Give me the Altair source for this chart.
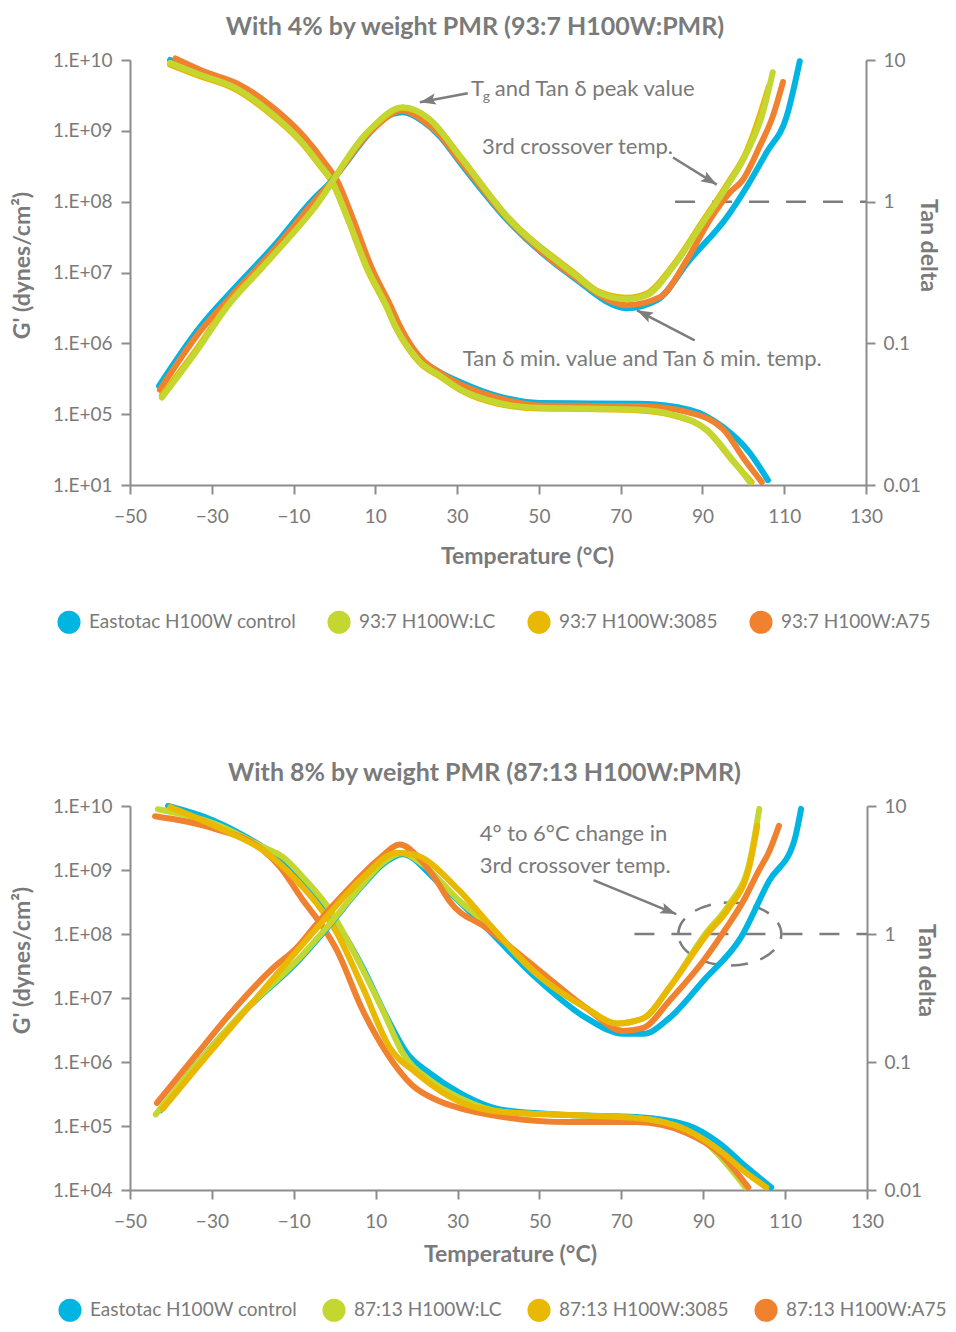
import altair as alt
import pandas as pd

FONT = "Lato"
TEXT_GRAY = "#7a7a7a"
AXIS_GRAY = "#8c8c8c"

SERIES_COLORS = ["#00b5e2", "#c4d630", "#e8b900", "#f0822f"]
TOP_SERIES = ["Eastotac H100W control", "93:7 H100W:LC", "93:7 H100W:3085", "93:7 H100W:A75"]
BOT_SERIES = ["Eastotac H100W control", "87:13 H100W:LC", "87:13 H100W:3085", "87:13 H100W:A75"]

X_TICKS = [-50, -30, -10, 10, 30, 50, 70, 90, 110, 130]
G_TICKS = [1e4, 1e5, 1e6, 1e7, 1e8, 1e9, 1e10]
TOP_G_LABELS = ["1.E+01", "1.E+05", "1.E+06", "1.E+07", "1.E+08", "1.E+09", "1.E+10"]
BOT_G_LABELS = ["1.E+04", "1.E+05", "1.E+06", "1.E+07", "1.E+08", "1.E+09", "1.E+10"]
TAN_TICKS = [0.01, 0.1, 1, 10]

# ---------------- top panel (4% PMR): G' (left axis) ----------------
TOP_G_CTRL_T = [-40.2, -32.9, -24.8, -16.5, -8.4, -3.5, -0.4, 3.1, 7.9, 12.8, 14.8, 18.5, 20.9, 25.8, 30.7, 40.0, 50.2, 62.0, 74.7, 86.9, 95.0, 101.6, 106.0]
TOP_G_CTRL_V = [1.0e10, 6.4e9, 4.3e9, 2.05e9, 7.6e8, 3.4e8, 1.9e8, 6.3e7, 1.25e7, 3.5e6, 1.95e6, 8.8e5, 6.1e5, 3.9e5, 2.85e5, 1.8e5, 1.44e5, 1.42e5, 1.4e5, 1.15e5, 6.6e4, 2.83e4, 1.17e4]
TOP_G_LC_T = [-40.2, -32.9, -24.8, -16.5, -8.4, -3.5, -0.4, 3.1, 7.9, 12.8, 14.8, 18.5, 20.9, 25.8, 30.7, 40.0, 50.2, 62.0, 74.7, 82.8, 91.1, 97.4, 101.6]
TOP_G_LC_V = [9.1e9, 6.2e9, 4.2e9, 2.0e9, 7.4e8, 3.3e8, 1.85e8, 6.1e7, 1.2e7, 3.3e6, 1.8e6, 8.1e5, 5.5e5, 3.5e5, 2.25e5, 1.45e5, 1.23e5, 1.2e5, 1.15e5, 9.8e4, 6.0e4, 2.25e4, 1.1e4]
TOP_G_3085_T = [-40.2, -32.9, -24.8, -16.5, -8.4, -3.5, -0.4, 3.1, 7.9, 12.8, 14.8, 18.5, 20.9, 25.8, 30.7, 40.0, 50.2, 62.0, 74.7, 82.8, 91.1, 97.4, 102.0]
TOP_G_3085_V = [8.6e9, 5.9e9, 4.0e9, 1.9e9, 7.2e8, 3.2e8, 1.8e8, 6.0e7, 1.15e7, 3.2e6, 1.75e6, 7.8e5, 5.3e5, 3.4e5, 2.2e5, 1.4e5, 1.2e5, 1.18e5, 1.13e5, 9.6e4, 5.9e4, 2.2e4, 1.1e4]
TOP_G_A75_T = [-38.9, -31.7, -23.6, -15.3, -7.2, -2.3, 0.8, 4.3, 9.0, 13.8, 15.8, 19.3, 21.6, 26.3, 31.0, 40.0, 50.2, 62.0, 74.7, 86.9, 95.0, 100.5, 104.5]
TOP_G_A75_V = [1.05e10, 6.8e9, 4.6e9, 2.2e9, 8.0e8, 3.5e8, 1.9e8, 6.2e7, 1.2e7, 3.3e6, 1.85e6, 8.4e5, 5.8e5, 3.7e5, 2.6e5, 1.7e5, 1.33e5, 1.31e5, 1.3e5, 1.05e5, 6.2e4, 2.2e4, 1.1e4]

# ---------------- top panel: tan delta (right axis) ----------------
TOP_TAN_CTRL_T = [-42.9, -32.9, -25.6, -15.0, -5.3, -1.1, 8.7, 11.9, 16.7, 21.6, 25.8, 30.7, 42.2, 58.3, 71.5, 78.9, 86.9, 96.0, 100.9, 105.7, 110.6, 113.8]
TOP_TAN_CTRL_V = [0.050, 0.13, 0.226, 0.48, 1.03, 1.36, 3.08, 3.82, 4.27, 3.69, 2.89, 1.89, 0.745, 0.294, 0.177, 0.202, 0.388, 0.78, 1.28, 2.23, 4.0, 9.8]
TOP_TAN_LC_T = [-42.2, -33.6, -26.3, -17.5, -5.3, 8.7, 16.7, 23.3, 30.7, 42.2, 58.3, 64.9, 71.5, 76.4, 82.8, 90.1, 96.0, 100.9, 104.8, 107.2]
TOP_TAN_LC_V = [0.0414, 0.089, 0.18, 0.346, 0.877, 3.24, 4.64, 3.82, 2.08, 0.78, 0.313, 0.226, 0.205, 0.219, 0.346, 0.71, 1.28, 2.23, 4.27, 8.2]
TOP_TAN_3085_T = [-42.2, -33.6, -26.3, -17.5, -5.3, 8.7, 16.7, 23.3, 30.7, 42.2, 58.3, 64.9, 71.5, 76.4, 82.8, 90.1, 96.0, 100.9, 104.3, 106.2]
TOP_TAN_3085_V = [0.043, 0.092, 0.185, 0.35, 0.88, 3.2, 4.6, 3.8, 2.1, 0.79, 0.32, 0.23, 0.21, 0.225, 0.355, 0.73, 1.32, 2.3, 4.3, 6.5]
TOP_TAN_A75_T = [-42.7, -33.0, -25.6, -15.0, -5.3, -1.1, 8.7, 16.7, 21.6, 25.8, 30.7, 42.2, 58.3, 71.5, 79.6, 86.2, 91.8, 96.7, 99.9, 104.0, 107.2, 109.7]
TOP_TAN_A75_V = [0.047, 0.12, 0.21, 0.45, 0.98, 1.34, 3.1, 4.4, 3.75, 2.95, 1.95, 0.76, 0.30, 0.186, 0.212, 0.388, 0.745, 1.16, 1.43, 2.46, 4.0, 7.0]

# ---------------- bottom panel (8% PMR): G' ----------------
BOT_G_CTRL_T = [-40.7, -29.8, -17.6, -11.7, -6.1, -1.2, 2.0, 6.8, 12.7, 17.6, 23.2, 30.5, 41.2, 57.3, 73.7, 85.9, 93.9, 100.5, 106.6]
BOT_G_CTRL_V = [1.0e10, 6.0e9, 2.3e9, 1.29e9, 5.4e8, 2.1e8, 1.05e8, 3.0e7, 5.0e6, 1.38e6, 6.7e5, 3.3e5, 1.78e5, 1.48e5, 1.38e5, 1.04e5, 5.4e4, 2.3e4, 1.1e4]
BOT_G_LC_T = [-43.2, -29.8, -17.6, -12.7, -7.8, -1.2, 4.4, 11.7, 16.6, 23.2, 30.5, 41.2, 57.3, 73.7, 85.9, 90.0, 96.3, 100.3]
BOT_G_LC_V = [8.9e9, 5.4e9, 2.3e9, 1.6e9, 7.8e8, 2.4e8, 5.6e7, 6.5e6, 1.38e6, 5.2e5, 2.75e5, 1.65e5, 1.48e5, 1.33e5, 8.7e4, 6.0e4, 2.3e4, 1.1e4]
BOT_G_3085_T = [-40.2, -25.6, -17.6, -9.3, -4.4, 0.5, 6.8, 13.4, 20.0, 30.5, 41.2, 57.3, 73.7, 85.9, 93.9, 100.5, 105.4]
BOT_G_3085_V = [9.6e9, 3.8e9, 2.05e9, 6.9e8, 3.0e8, 1.05e8, 1.48e7, 1.7e6, 6.7e5, 2.4e5, 1.65e5, 1.48e5, 1.33e5, 8.7e4, 4.2e4, 1.85e4, 1.1e4]
BOT_G_A75_T = [-43.9, -29.8, -17.6, -13.4, -7.8, -2.9, 0.5, 6.8, 12.7, 19.0, 24.9, 30.5, 41.2, 57.3, 73.7, 85.9, 93.9, 101.0]
BOT_G_A75_V = [6.9e9, 4.5e9, 2.05e9, 1.12e9, 3.4e8, 1.29e8, 5.6e7, 6.5e6, 1.38e6, 4.3e5, 2.55e5, 1.9e5, 1.38e5, 1.15e5, 1.15e5, 7.8e4, 3.8e4, 1.1e4]

# ---------------- bottom panel: tan delta ----------------
BOT_TAN_CTRL_T = [-42.5, -33.7, -21.5, -9.3, -1.2, 6.8, 11.7, 16.6, 24.9, 37.1, 49.3, 61.5, 70.5, 75.4, 81.7, 90.0, 99.3, 106.1, 112.2, 113.9]
BOT_TAN_CTRL_V = [0.042, 0.096, 0.26, 0.6, 1.18, 2.4, 3.5, 4.2, 2.6, 1.11, 0.45, 0.22, 0.166, 0.166, 0.22, 0.43, 0.95, 2.6, 5.3, 9.5]
BOT_TAN_LC_T = [-43.7, -33.7, -21.5, -9.3, -1.2, 6.8, 11.7, 16.6, 21.5, 30.5, 37.1, 49.3, 61.5, 68.8, 75.4, 81.7, 90.5, 96.3, 101.2, 103.7]
BOT_TAN_LC_V = [0.039, 0.096, 0.263, 0.615, 1.2, 2.45, 3.6, 4.3, 3.5, 1.81, 1.2, 0.49, 0.263, 0.20, 0.22, 0.38, 1.0, 1.7, 3.5, 9.5]
BOT_TAN_3085_T = [-42.0, -33.7, -17.6, -4.4, 6.8, 15.1, 19.0, 30.5, 37.1, 49.3, 61.5, 68.8, 75.4, 81.7, 91.0, 96.3, 101.2, 103.2]
BOT_TAN_3085_V = [0.043, 0.09, 0.36, 1.11, 2.74, 4.3, 4.2, 2.17, 1.26, 0.49, 0.263, 0.20, 0.22, 0.38, 1.0, 1.6, 3.3, 7.0]
BOT_TAN_A75_T = [-43.4, -33.7, -25.6, -15.1, -9.3, -4.4, 2.9, 11.0, 15.9, 20.7, 24.9, 28.0, 37.1, 49.3, 61.5, 70.5, 75.4, 81.7, 90.0, 95.6, 99.8, 103.5, 106.1, 108.5]
BOT_TAN_A75_V = [0.048, 0.115, 0.237, 0.54, 0.78, 1.2, 2.17, 3.9, 5.0, 3.9, 2.6, 1.81, 1.11, 0.54, 0.263, 0.175, 0.185, 0.30, 0.615, 1.11, 1.81, 3.1, 4.4, 7.0]

# ---------------- annotations (temperature, tan delta) ----------------
TOP_NOTE_TEXT = ["and Tan \u03b4 peak value", "3rd crossover temp.", "Tan \u03b4 min. value and Tan \u03b4 min. temp."]
TOP_NOTE_T = [39.2, 36.1, 31.4]
TOP_NOTE_V = [6.22, 2.45, 0.078]
TOP_TG_TEXT = ["T", "g"]
TOP_TG_T = [33.4, 36.3]
TOP_TG_V = [6.22, 5.45]
TOP_ARROW_T = [32.6, 82.8, 88.1]
TOP_ARROW_V = [5.83, 2.05, 0.105]
TOP_ARROW_T2 = [20.9, 93.5, 74.0]
TOP_ARROW_V2 = [5.04, 1.32, 0.171]
TOP_ARROW_ANGLE = [259, 121, 297]
TOP_DASH_T = [83.3]
TOP_DASH_T2 = [130.0]

BOT_NOTE_TEXT = ["4\u00b0 to 6\u00b0C change in", "3rd crossover temp."]
BOT_NOTE_T = [35.4, 35.4]
BOT_NOTE_V = [6.04, 3.4]
BOT_ARROW_T = [63.2]
BOT_ARROW_V = [2.64]
BOT_ARROW_T2 = [83.4]
BOT_ARROW_V2 = [1.43]
BOT_ARROW_ANGLE = [112]
BOT_DASH_T = [73.2]
BOT_DASH_T2 = [130.0]
BOT_ELLIPSE_T = [96.5]
BOT_ELLIPSE_V = [1.0]

ARROW_PATH = "M0,0L0.7,2L0,1.6L-0.7,2Z"
ELLIPSE_PATH = "M-1,0A1,0.612,0,1,1,1,0A1,0.612,0,1,1,-1,0Z"


def df(series, temps, vals):
    return pd.DataFrame({"series": series, "T": temps, "v": vals})


def label_expr(ticks, labels):
    expr = "'" + labels[-1] + "'"
    for t, lab in reversed(list(zip(ticks[:-1], labels[:-1]))):
        expr = f"datum.value < {t * 3} ? '{lab}' : ({expr})"
    return expr


def build_panel(title, title_dx, series, g_sets, tan_sets, g_labels, z_order, dims, axis_pos, notes):
    width, height = dims
    x_enc = alt.X(
        "T:Q",
        scale=alt.Scale(domain=[-50, 130], nice=False, zero=False),
        axis=alt.Axis(values=X_TICKS, title="Temperature (\u00b0C)", titleX=axis_pos["xtx"],
                      titleY=axis_pos["xty"], titleBaseline="middle", titleAlign="center",
                      labelPadding=13),
    )
    g_scale = alt.Scale(type="log", domain=[1e4, 1e10], nice=False)
    g_axis = alt.Axis(orient="left", values=G_TICKS, labelExpr=label_expr(G_TICKS, g_labels),
                      title="G' (dynes/cm\u00b2)", titleAngle=-90, titleX=axis_pos["gtx"],
                      titleY=axis_pos["gty"], titleBaseline="middle", titleAlign="center",
                      labelPadding=9)
    tan_scale = alt.Scale(type="log", domain=[0.01, 10], nice=False)
    tan_axis = alt.Axis(orient="right", values=TAN_TICKS, format="~g", title="Tan delta",
                        titleAngle=90, titleX=axis_pos["ttx"], titleY=axis_pos["tty"],
                        titleBaseline="middle", titleAlign="center", labelPadding=8)
    legend = alt.Legend(title=None, orient="none", legendX=axis_pos["lx"], legendY=axis_pos["ly"],
                        direction="horizontal", symbolType="circle", symbolSize=530,
                        symbolStrokeWidth=0, symbolOpacity=1, labelFont=FONT, labelFontSize=19,
                        labelColor=TEXT_GRAY, labelLimit=400, columnPadding=axis_pos["cp"],
                        labelOffset=8, padding=0)
    color_enc = alt.Color("series:N", scale=alt.Scale(domain=series, range=SERIES_COLORS), legend=legend)

    line_kw = dict(strokeWidth=6, strokeCap="round", strokeJoin="round", interpolate="monotone")

    dummy = alt.Chart(pd.DataFrame({"series": series})).mark_circle(opacity=0, size=0).encode(color=color_enc)
    g_lines = [
        alt.Chart(df(series[i], *g_sets[i])).mark_line(**line_kw).encode(
            x=x_enc, y=alt.Y("v:Q", scale=g_scale, axis=g_axis), color=color_enc)
        for i in z_order
    ]
    y_tan = alt.Y("v:Q", scale=tan_scale, axis=tan_axis)

    ann = []
    ann.append(alt.Chart(pd.DataFrame({"T": notes["dash_t"], "T2": notes["dash_t2"], "v": [1.0] * len(notes["dash_t"])}))
               .mark_rule(color="#7d7d7d", strokeWidth=2.5, strokeDash=[20, 17])
               .encode(x=x_enc, x2="T2:Q", y=y_tan))
    if notes.get("ell_t"):
        ann.append(alt.Chart(pd.DataFrame({"T": notes["ell_t"], "v": notes["ell_v"]}))
                   .mark_point(shape=ELLIPSE_PATH, size=10609, filled=False, color="#7d7d7d",
                               strokeWidth=2.5, strokeDash=[17, 13], opacity=1)
                   .encode(x=x_enc, y=y_tan))
    ann.append(alt.Chart(pd.DataFrame({"T": notes["ar_t"], "v": notes["ar_v"], "T2": notes["ar_t2"], "v2": notes["ar_v2"]}))
               .mark_rule(color="#7d7d7d", strokeWidth=2.5)
               .encode(x=x_enc, y=y_tan, x2="T2:Q", y2="v2:Q"))
    ann.append(alt.Chart(pd.DataFrame({"T": notes["ar_t2"], "v": notes["ar_v2"], "ang": notes["ar_ang"]}))
               .mark_point(shape=ARROW_PATH, size=256, filled=True, color="#7d7d7d", opacity=1)
               .encode(x=x_enc, y=y_tan, angle=alt.Angle("ang:Q", scale=None)))
    ann.append(alt.Chart(pd.DataFrame({"T": notes["txt_t"], "v": notes["txt_v"], "txt": notes["txt"]}))
               .mark_text(align="left", baseline="middle", font=FONT, fontSize=22, color=TEXT_GRAY)
               .encode(x=x_enc, y=y_tan, text="txt:N"))
    if notes.get("tg_t"):
        tg = pd.DataFrame({"T": notes["tg_t"], "v": notes["tg_v"], "txt": notes["tg"], "fs": [22, 14]})
        ann.append(alt.Chart(tg).mark_text(align="left", baseline="middle", font=FONT, color=TEXT_GRAY)
                   .encode(x=x_enc, y=y_tan, text="txt:N", size=alt.Size("fs:Q", scale=None, legend=None)))

    tan_lines = [
        alt.Chart(df(series[i], *tan_sets[i])).mark_line(**line_kw).encode(x=x_enc, y=y_tan, color=color_enc)
        for i in z_order
    ]

    g_layer = alt.layer(dummy, *g_lines)
    tan_layer = alt.layer(*ann, *tan_lines)
    return (
        alt.layer(g_layer, tan_layer)
        .resolve_scale(y="independent")
        .properties(width=width, height=height,
                    title=alt.TitleParams(title, font=FONT, fontSize=25, fontWeight="bold",
                                          color=TEXT_GRAY, anchor="middle", offset=11, dx=title_dx))
    )


top = build_panel(
    "With 4% by weight PMR (93:7 H100W:PMR)", -23,
    TOP_SERIES,
    [(TOP_G_CTRL_T, TOP_G_CTRL_V), (TOP_G_LC_T, TOP_G_LC_V), (TOP_G_3085_T, TOP_G_3085_V), (TOP_G_A75_T, TOP_G_A75_V)],
    [(TOP_TAN_CTRL_T, TOP_TAN_CTRL_V), (TOP_TAN_LC_T, TOP_TAN_LC_V), (TOP_TAN_3085_T, TOP_TAN_3085_V), (TOP_TAN_A75_T, TOP_TAN_A75_V)],
    TOP_G_LABELS,
    [0, 3, 2, 1],
    (736, 425),
    dict(xtx=397, xty=71, gtx=-108, gty=205, ttx=61, tty=185, lx=-73, ly=550, cp=31),
    dict(dash_t=TOP_DASH_T, dash_t2=TOP_DASH_T2, ar_t=TOP_ARROW_T, ar_v=TOP_ARROW_V, ar_t2=TOP_ARROW_T2,
         ar_v2=TOP_ARROW_V2, ar_ang=TOP_ARROW_ANGLE, txt_t=TOP_NOTE_T, txt_v=TOP_NOTE_V, txt=TOP_NOTE_TEXT,
         tg_t=TOP_TG_T, tg_v=TOP_TG_V, tg=TOP_TG_TEXT),
)

bottom = build_panel(
    "With 8% by weight PMR (87:13 H100W:PMR)", -14,
    BOT_SERIES,
    [(BOT_G_CTRL_T, BOT_G_CTRL_V), (BOT_G_LC_T, BOT_G_LC_V), (BOT_G_3085_T, BOT_G_3085_V), (BOT_G_A75_T, BOT_G_A75_V)],
    [(BOT_TAN_CTRL_T, BOT_TAN_CTRL_V), (BOT_TAN_LC_T, BOT_TAN_LC_V), (BOT_TAN_3085_T, BOT_TAN_3085_V), (BOT_TAN_A75_T, BOT_TAN_A75_V)],
    BOT_G_LABELS,
    [0, 1, 3, 2],
    (737, 384),
    dict(xtx=380, xty=64, gtx=-108, gty=154, ttx=58, tty=164, lx=-72, ly=492, cp=25),
    dict(dash_t=BOT_DASH_T, dash_t2=BOT_DASH_T2, ell_t=BOT_ELLIPSE_T, ell_v=BOT_ELLIPSE_V,
         ar_t=BOT_ARROW_T, ar_v=BOT_ARROW_V, ar_t2=BOT_ARROW_T2, ar_v2=BOT_ARROW_V2, ar_ang=BOT_ARROW_ANGLE,
         txt_t=BOT_NOTE_T, txt_v=BOT_NOTE_V, txt=BOT_NOTE_TEXT),
)

chart = (
    alt.vconcat(top, bottom, spacing=127)
    .resolve_scale(x="independent", y="independent", color="independent")
    .properties(padding={"left": 3, "top": 7, "right": 0, "bottom": 0})
    .configure_view(stroke=None)
    .configure_axis(
        grid=False, labelFlush=False,
        domainColor=AXIS_GRAY, domainWidth=2,
        tickColor=AXIS_GRAY, tickWidth=2, tickSize=9,
        labelFont=FONT, labelFontSize=19, labelColor=TEXT_GRAY,
        titleFont=FONT, titleFontSize=23, titleFontWeight="bold", titleColor=TEXT_GRAY,
    )
)

chart.save("out.html", embed_options={"renderer": "svg", "actions": False})
